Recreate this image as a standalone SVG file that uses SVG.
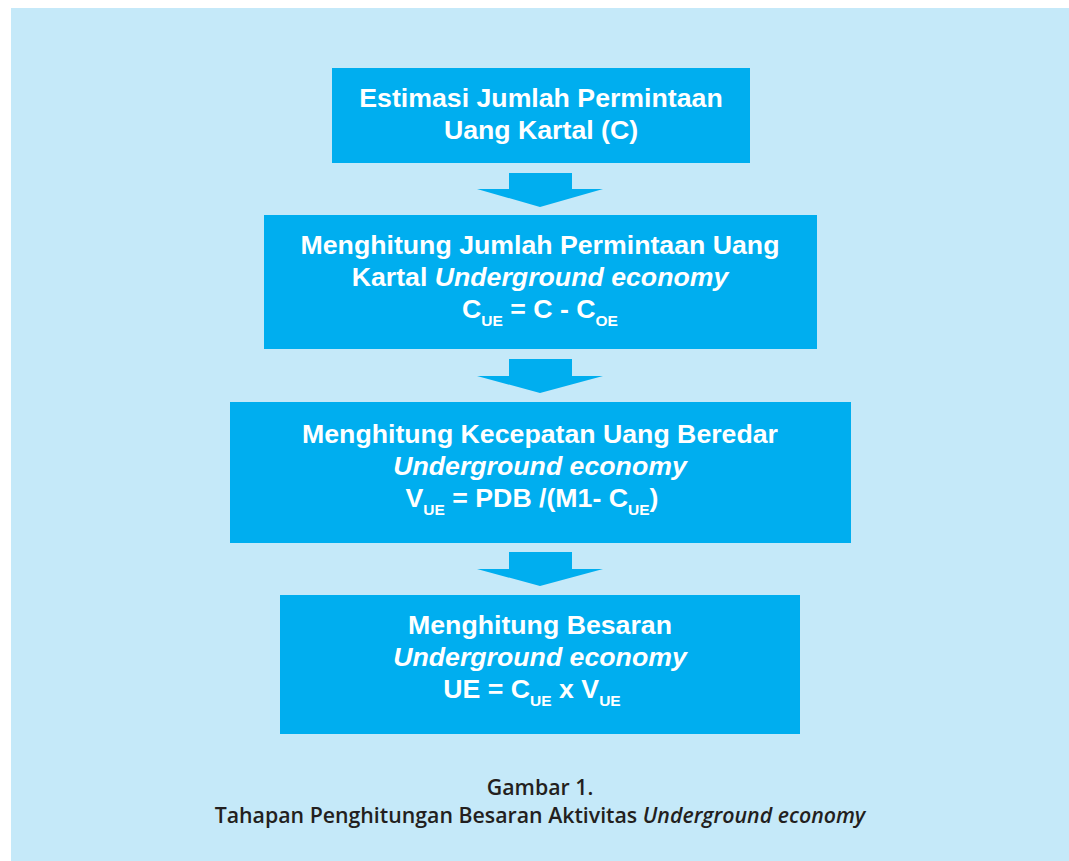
<svg xmlns="http://www.w3.org/2000/svg" width="1069" height="861" viewBox="0 0 1069 861">
  <defs>
    <style>
      .panel { fill: #c5e9f9; }
      .box { fill: #00aeef; }
      .arrow { fill: #00aeef; }
      .t { font-family: "Liberation Sans", Arial, sans-serif; font-weight: bold; font-size: 26.7px; fill: #ffffff; text-anchor: middle; }
      .it { font-style: italic; }
      .sub { font-size: 15.5px; }
      .cap { font-family: "Open Sans", "Noto Sans", sans-serif; font-weight: 600; font-size: 21.3px; fill: #231f20; text-anchor: middle; }
    </style>
  </defs>

  <rect x="0" y="0" width="1069" height="861" fill="#ffffff"/>
  <rect class="panel" x="11" y="8" width="1058" height="853"/>

  <!-- Step 1 -->
  <g id="node-estimasi">
    <rect class="box" x="332" y="68" width="418" height="95"/>
    <text class="t" x="541" y="107">Estimasi Jumlah Permintaan</text>
    <text class="t" x="541" y="139">Uang Kartal (C)</text>
  </g>

  <!-- Step 2 -->
  <g id="node-permintaan-ue">
    <rect class="box" x="264" y="215" width="553" height="134"/>
    <text class="t" x="540" y="254">Menghitung Jumlah Permintaan Uang</text>
    <text class="t" x="540" y="286">Kartal <tspan class="it">Underground economy</tspan></text>
    <text class="t" x="540" y="318">C<tspan class="sub" dy="8">UE</tspan><tspan dy="-8"> = C - C</tspan><tspan class="sub" dy="8">OE</tspan></text>
  </g>

  <!-- Step 3 -->
  <g id="node-kecepatan">
    <rect class="box" x="230" y="402" width="621" height="141"/>
    <text class="t" x="540" y="443">Menghitung Kecepatan Uang Beredar</text>
    <text class="t it" x="540" y="475">Underground economy</text>
    <text class="t" x="532" y="507">V<tspan class="sub" dy="8">UE</tspan><tspan dy="-8"> = PDB /(M1- C</tspan><tspan class="sub" dy="8">UE</tspan><tspan dy="-8">)</tspan></text>
  </g>

  <!-- Step 4 -->
  <g id="node-besaran">
    <rect class="box" x="280" y="595" width="520" height="139"/>
    <text class="t" x="540" y="634">Menghitung Besaran</text>
    <text class="t it" x="540" y="666">Underground economy</text>
    <text class="t" x="532" y="698">UE = C<tspan class="sub" dy="8">UE</tspan><tspan dy="-8"> x V</tspan><tspan class="sub" dy="8">UE</tspan></text>
  </g>

  <!-- Block arrows between steps -->
  <g id="connectors">
    <polygon class="arrow" points="509,173 572,173 572,189 603,189 540,207 477,189 509,189"/>
    <polygon class="arrow" points="509,359 572,359 572,376 603,376 540,393 477,376 509,376"/>
    <polygon class="arrow" points="509,552 572,552 572,569 603,569 540,586 477,569 509,569"/>
  </g>

  <!-- Caption -->
  <g id="caption">
    <text class="cap" x="540" y="795">Gambar 1.</text>
    <text class="cap" x="540" y="823">Tahapan Penghitungan Besaran Aktivitas <tspan font-style="italic">Underground economy</tspan></text>
  </g>
</svg>
